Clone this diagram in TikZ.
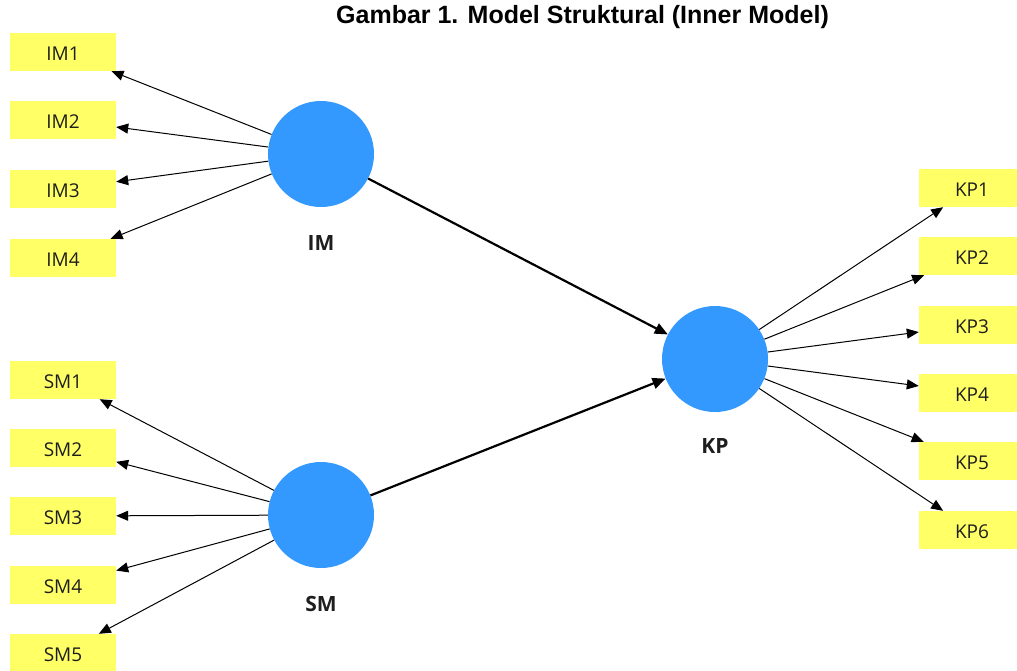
\documentclass[tikz,border=0pt]{standalone}
\usepackage{fontspec}
\newfontfamily\osans{Open Sans}
\newfontfamily\titlefont{Liberation Sans}
\usetikzlibrary{arrows.meta}
\definecolor{boxyellow}{RGB}{255,255,102}
\definecolor{lvblue}{RGB}{51,153,255}
\definecolor{txt}{RGB}{30,30,30}
\begin{document}
\begin{tikzpicture}[x=1pt,y=-1pt,
  ind/.style={rectangle, fill=boxyellow, minimum width=106pt, minimum height=38pt, inner sep=0pt,
    text height=17pt, text depth=0pt,
    text=txt, font=\osans\fontsize{19}{19}\selectfont},
  lv/.style={circle, fill=lvblue, minimum size=106pt, inner sep=0pt},
  lvlabel/.style={text=txt, font=\osans\bfseries\fontsize{21}{21}\selectfont},
  meas/.style={draw=black, line width=1pt, -{Triangle[length=12pt,width=10pt]}},
  struct/.style={draw=black, line width=2.2pt, -{Triangle[length=13pt,width=11pt]}}]
\useasboundingbox (0,0) rectangle (1017,670);
\fill[white] (0,0) rectangle (1017,670);
\node[font=\titlefont\bfseries\fontsize{25}{25}\selectfont, anchor=base] (title) at (582.5,23) {Gambar 1. Model Struktural (Inner Model)};
% latent variables
\node[lv] (IM) at (321,154) {};
\node[lv] (SM) at (321,515) {};
\node[lv] (KP) at (715,359) {};
\node[lvlabel] (IMl) at (321,243) {IM};
\node[lvlabel] (SMl) at (321,604) {SM};
\node[lvlabel] (KPl) at (715,446) {KP};
% indicators
\node[ind] (IM1) at (63,52) {IM1};
\node[ind] (IM2) at (63,120) {IM2};
\node[ind] (IM3) at (63,189) {IM3};
\node[ind] (IM4) at (63,258) {IM4};
\node[ind] (SM1) at (63,380) {SM1};
\node[ind] (SM2) at (63,448) {SM2};
\node[ind] (SM3) at (63,516) {SM3};
\node[ind] (SM4) at (63,585) {SM4};
\node[ind] (SM5) at (63,653) {SM5};
\node[ind] (KP1) at (972,188) {KP1};
\node[ind] (KP2) at (972,256) {KP2};
\node[ind] (KP3) at (972,325) {KP3};
\node[ind] (KP4) at (972,393) {KP4};
\node[ind] (KP5) at (972,461) {KP5};
\node[ind] (KP6) at (972,530) {KP6};
% measurement arrows
\foreach \i in {1,...,4} {\draw[meas] (IM) -- (IM\i);}
\foreach \i in {1,...,5} {\draw[meas] (SM) -- (SM\i);}
\foreach \i in {1,...,6} {\draw[meas] (KP) -- (KP\i);}
% structural arrows
\draw[struct] (IM) -- (KP);
\draw[struct] (SM) -- (KP);
\end{tikzpicture}
\end{document}
